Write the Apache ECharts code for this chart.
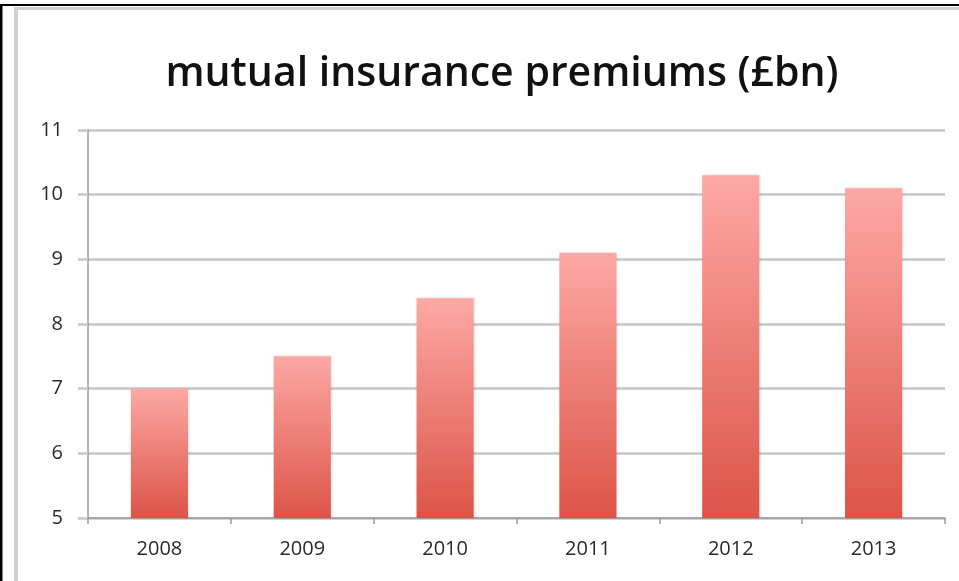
<!DOCTYPE html>
<html>
<head>
<meta charset="utf-8">
<script src="https://cdn.jsdelivr.net/npm/echarts@6/dist/echarts.min.js"></script>
<style>
html,body{margin:0;padding:0;background:#fff;}
#chart{width:959px;height:581px;}
</style>
</head>
<body>
<div id="chart"></div>
<script>
const titleText = 'mutual insurance premiums (£bn)';
const categories = ['2008', '2009', '2010', '2011', '2012', '2013'];
const premiums = [7.0, 7.5, 8.4, 9.1, 10.3, 10.1];
const yTicks = [5, 6, 7, 8, 9, 10, 11];

const chart = echarts.init(document.getElementById('chart'), null, {renderer: 'canvas'});
chart.setOption({
  animation: false,
  backgroundColor: '#fff',
  title: {
    text: titleText,
    left: 497,
    top: 49,
    textAlign: 'center',
    textStyle: {fontFamily: 'Open Sans', fontWeight: 600, fontSize: 41, color: '#111'}
  },
  graphic: [
    {type: 'rect', shape: {x: 0, y: 4, width: 959, height: 2}, style: {fill: '#000'}},
    {type: 'rect', shape: {x: 0, y: 4, width: 2.5, height: 577}, style: {fill: '#000'}},
    {type: 'rect', shape: {x: 14, y: 7, width: 945, height: 3}, style: {fill: '#cfcfcf'}},
    {type: 'rect', shape: {x: 14, y: 7, width: 4, height: 574}, style: {fill: '#cfcfcf'}}
  ],
  grid: {left: 88, right: 14, top: 130, bottom: 63, containLabel: false},
  xAxis: {
    type: 'category',
    data: categories,
    axisLine: {lineStyle: {color: '#9a9a9a', width: 1.5}},
    axisTick: {show: true, length: 6, alignWithLabel: false, lineStyle: {color: '#9a9a9a', width: 1.5}},
    axisLabel: {fontFamily: 'Open Sans', fontSize: 20, color: '#2a2a2a', margin: 21}
  },
  yAxis: {
    type: 'value',
    min: yTicks[0],
    max: yTicks[yTicks.length - 1],
    interval: 1,
    axisLine: {show: true, lineStyle: {color: '#9a9a9a', width: 1.5}},
    axisTick: {show: true, length: 10, lineStyle: {color: '#c6c6c6', width: 2.5}},
    splitLine: {lineStyle: {color: '#c6c6c6', width: 2.5}},
    axisLabel: {fontFamily: 'Open Sans', fontSize: 20, color: '#2a2a2a', margin: 25}
  },
  series: [{
    type: 'bar',
    data: premiums,
    barWidth: '40%',
    itemStyle: {
      color: new echarts.graphic.LinearGradient(0, 0, 0, 1, [
        {offset: 0, color: '#fda8a5'},
        {offset: 1, color: '#dc5447'}
      ]),
      shadowColor: 'rgba(0,0,0,0.15)',
      shadowBlur: 3,
      shadowOffsetX: 1
    }
  }]
});
</script>
</body>
</html>
